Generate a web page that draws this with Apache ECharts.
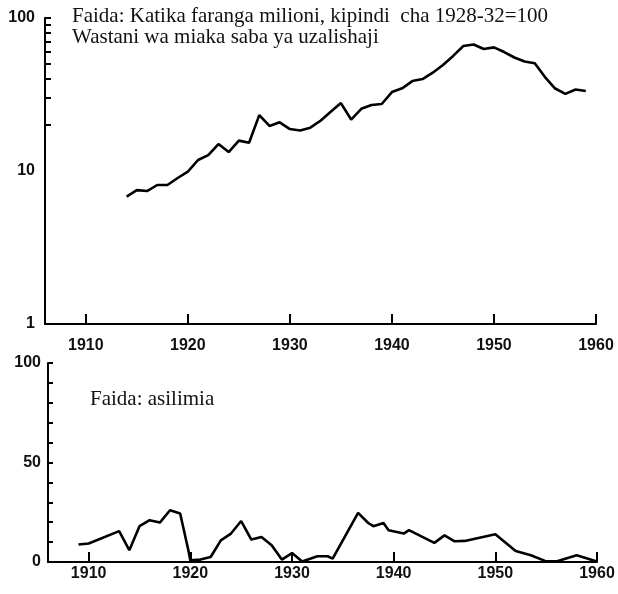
<!DOCTYPE html>
<html>
<head>
<meta charset="utf-8">
<script src="https://cdn.jsdelivr.net/npm/echarts@6/dist/echarts.min.js"></script>
<style>
  html, body { margin: 0; padding: 0; background: #fff; }
  #chart { width: 618px; height: 594px; }
</style>
</head>
<body>
<div id="chart"></div>
<script>
// profit in million francs, 1928-32 = 100 (7-year moving average), log scale
const profitYears = [1914, 1915, 1916, 1917, 1918, 1919, 1920, 1921, 1922, 1923,
  1924, 1925, 1926, 1927, 1928, 1929, 1930, 1931, 1932, 1933,
  1934, 1935, 1936, 1937, 1938, 1939, 1940, 1941, 1942, 1943,
  1944, 1945, 1946, 1947, 1948, 1949, 1950, 1951, 1952, 1953,
  1954, 1955, 1956, 1957, 1958, 1959];
const profitIndex = [6.8, 7.5, 7.4, 8.1, 8.1, 9.0, 9.9, 11.8, 12.7, 15.0,
  13.3, 15.8, 15.3, 23.2, 19.7, 20.8, 18.8, 18.4, 19.2, 21.3,
  24.4, 27.8, 21.7, 25.5, 27.0, 27.4, 32.8, 34.7, 38.7, 39.9,
  43.9, 49.3, 56.5, 65.6, 67.1, 62.7, 64.3, 59.9, 55.2, 52.0,
  50.6, 41.1, 34.6, 31.9, 34.1, 33.3];

// profit as a percentage
const shareYears = [1909, 1910, 1913, 1914, 1915, 1916, 1917, 1918, 1919, 1919.8,
  1920, 1921, 1922, 1923, 1924, 1925, 1926, 1927, 1928, 1929,
  1930, 1931, 1932.5, 1933.5, 1934, 1936.5, 1937.5, 1938, 1939, 1939.5,
  1941, 1941.5, 1944, 1945, 1946, 1947, 1950, 1952, 1953.5, 1955,
  1956, 1958, 1960];
const shareValues = [8.8, 9.3, 15.5, 5.9, 18, 21, 19.8, 26, 24.4, 6,
  0.8, 1.2, 2.5, 10.9, 14.3, 20.6, 11.3, 12.6, 8.4, 1.2,
  4.5, 0.3, 2.9, 2.9, 1.7, 24.7, 19.6, 18, 19.6, 16,
  14.3, 16, 9.6, 13.4, 10.4, 10.6, 13.9, 5.5, 3.4, 0.3,
  0.3, 3.4, 0.3];

const yearTicks = [1910, 1920, 1930, 1940, 1950, 1960];
const logLabels = [1, 10, 100];
const logMinorTicks = [20, 30, 40, 50, 60, 70, 80, 90, 100];
const pctLabels = [0, 50, 100];

const chart = echarts.init(document.getElementById('chart'));

const axisText = {
  fontFamily: '"Liberation Sans", Arial, sans-serif',
  fontSize: 16,
  fontWeight: 'bold',
  color: '#111',
  formatter: v => String(v)
};
const noteFont = '21px "Liberation Serif", "Times New Roman", serif';
const blackLine = { color: '#000', width: 2 };

function xAxisFor(gridIndex, margin) {
  return {
    gridIndex: gridIndex,
    type: 'value',
    min: 1906,
    max: 1960,
    splitLine: { show: false },
    axisLine: { onZero: false, lineStyle: blackLine },
    axisTick: { inside: true, length: 10, customValues: yearTicks, lineStyle: blackLine },
    axisLabel: Object.assign({ margin: margin, customValues: yearTicks }, axisText)
  };
}

const option = {
  animation: false,
  backgroundColor: '#fff',
  grid: [
    { left: 45, top: 18, width: 551, height: 306 },
    { left: 48, top: 363, width: 549, height: 199 }
  ],
  xAxis: [xAxisFor(0, 14), xAxisFor(1, 4)],
  yAxis: [
    {
      gridIndex: 0,
      type: 'log',
      logBase: 10,
      min: 1,
      max: 100,
      splitLine: { show: false },
      axisLine: { show: true, onZero: false, lineStyle: blackLine },
      axisTick: { show: true, inside: true, length: 6, customValues: logMinorTicks, lineStyle: blackLine },
      axisLabel: Object.assign({ margin: 10, customValues: logLabels }, axisText)
    },
    {
      gridIndex: 1,
      type: 'value',
      min: 0,
      max: 100,
      interval: 10,
      splitLine: { show: false },
      axisLine: { show: true, onZero: false, lineStyle: blackLine },
      axisTick: { show: true, inside: true, length: 5, lineStyle: blackLine },
      axisLabel: Object.assign({ margin: 7, customValues: pctLabels }, axisText)
    }
  ],
  graphic: [
    { type: 'text', left: 72, top: 6, style: { text: 'Faida: Katika faranga milioni, kipindi  cha 1928-32=100', font: noteFont, fill: '#111' } },
    { type: 'text', left: 72, top: 27, style: { text: 'Wastani wa miaka saba ya uzalishaji', font: noteFont, fill: '#111' } },
    { type: 'text', left: 90, top: 389, style: { text: 'Faida: asilimia', font: noteFont, fill: '#111' } }
  ],
  series: [
    {
      type: 'line',
      xAxisIndex: 0,
      yAxisIndex: 0,
      symbol: 'none',
      lineStyle: { color: '#000', width: 2.6 },
      data: profitYears.map((y, i) => [y, profitIndex[i]])
    },
    {
      type: 'line',
      xAxisIndex: 1,
      yAxisIndex: 1,
      symbol: 'none',
      lineStyle: { color: '#000', width: 2.6 },
      data: shareYears.map((y, i) => [y, shareValues[i]])
    }
  ]
};

chart.setOption(option);
</script>
</body>
</html>
